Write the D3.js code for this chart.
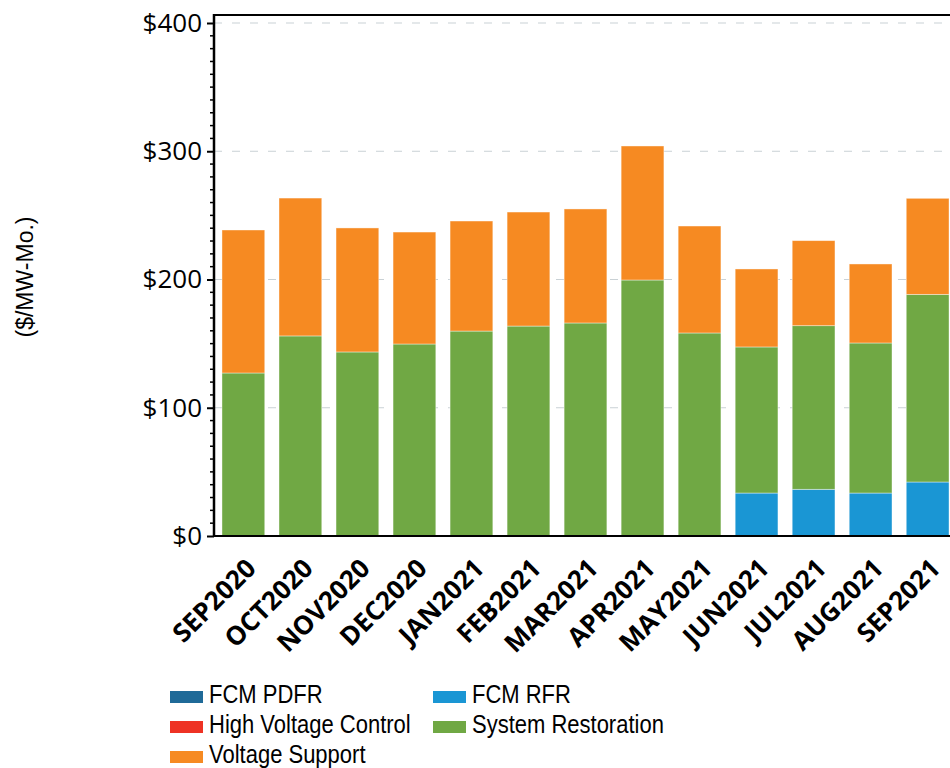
<!DOCTYPE html>
<html lang="en">
<head>
    <meta charset="UTF-8">
    <title>Ancillary costs</title>
    <script src="https://d3js.org/d3.v7.min.js"></script>
    <style>
        body {
            margin: 0;
            background: #ffffff;
            overflow: hidden;
        }

        .tick-label {
            font: 26px "Open Sans", sans-serif;
            fill: #000;
        }

        .month-label {
            font: bold 26px "Open Sans", sans-serif;
            fill: #000;
        }

        .legend-label {
            font: 22px "Liberation Sans", Arial, sans-serif;
            fill: #000;
        }

        .axis-title {
            font: 23px "Liberation Sans", Arial, sans-serif;
            fill: #000;
        }
    </style>
</head>
<body>
    <div id="chart"></div>
    <script>
        // Data ($/MW-Mo.)
        const months = ['SEP2020', 'OCT2020', 'NOV2020', 'DEC2020', 'JAN2021', 'FEB2021', 'MAR2021',
            'APR2021', 'MAY2021', 'JUN2021', 'JUL2021', 'AUG2021', 'SEP2021'];

        const fcmPdfr = [0, 0, 0, 0, 0, 0, 0, 0, 0, 0, 0, 0, 0];
        const fcmRfr = [0, 0, 0, 0, 0, 0, 0, 0, 0, 33.5, 36.4, 33.5, 42.1];
        const highVoltageControl = [0, 0, 0, 0, 0, 0, 0, 0, 0, 0, 0, 0, 0];
        const systemRestoration = [127.1, 156.0, 143.5, 149.7, 159.8, 163.7, 166.1, 199.6, 158.3, 113.9, 127.6, 117.0, 146.3];
        const voltageSupport = [111.5, 107.5, 96.7, 87.3, 85.8, 88.9, 88.9, 104.5, 83.4, 60.8, 66.3, 61.6, 74.9];

        const yTicks = [0, 100, 200, 300, 400];

        const series = [
            { name: 'FCM PDFR', values: fcmPdfr, color: '#1f6a98' },
            { name: 'FCM RFR', values: fcmRfr, color: '#1a96d4' },
            { name: 'High Voltage Control', values: highVoltageControl, color: '#ee3224' },
            { name: 'System Restoration', values: systemRestoration, color: '#70a844' },
            { name: 'Voltage Support', values: voltageSupport, color: '#f68a22' }
        ];

        // Legend layout follows the reference: two columns, filled row by row
        const legendOrder = ['FCM PDFR', 'FCM RFR', 'High Voltage Control', 'System Restoration', 'Voltage Support'];

        const width = 950;
        const height = 768;
        const plot = { left: 214, right: 957, top: 15, bottom: 536 };

        const svg = d3.select('#chart')
            .append('svg')
            .attr('width', width)
            .attr('height', height);

        const x = d3.scaleBand()
            .domain(months)
            .range([plot.left, plot.right])
            .paddingInner(0.25)
            .paddingOuter(0.14);

        const y = d3.scaleLinear()
            .domain([0, 400])
            .range([plot.bottom, plot.bottom - 513]);

        // Gridlines (behind the bars)
        svg.append('g')
            .selectAll('line')
            .data(yTicks.filter(d => d > 0))
            .join('line')
            .attr('x1', plot.left)
            .attr('x2', plot.right)
            .attr('y1', d => y(d))
            .attr('y2', d => y(d))
            .attr('stroke', '#c9d1d5')
            .attr('stroke-width', 1.2)
            .attr('stroke-dasharray', '8,10');

        // Stacked bars
        const table = months.map((m, i) => {
            const row = { month: m };
            for (const s of series) row[s.name] = s.values[i];
            return row;
        });
        const stacked = d3.stack().keys(series.map(s => s.name))(table);

        svg.append('g')
            .selectAll('g')
            .data(stacked)
            .join('g')
            .attr('fill', (d, i) => series[i].color)
            .selectAll('rect')
            .data(d => d.filter(p => p[1] - p[0] > 0))
            .join('rect')
            .attr('x', d => x(d.data.month))
            .attr('width', x.bandwidth())
            .attr('y', d => y(d[1]))
            .attr('height', d => y(d[0]) - y(d[1]))
            .attr('stroke', '#ffffff')
            .attr('stroke-opacity', 0.5)
            .attr('stroke-width', 0.8);

        // Frame
        svg.append('line')
            .attr('x1', plot.left).attr('x2', plot.right)
            .attr('y1', plot.top).attr('y2', plot.top)
            .attr('stroke', '#000').attr('stroke-width', 2);

        // Y axis with minor ticks every $10
        const yAxis = d3.axisLeft(y)
            .tickValues(yTicks)
            .tickSize(7)
            .tickPadding(5)
            .tickFormat(d => '$' + d);

        const yg = svg.append('g')
            .attr('transform', `translate(${plot.left},0)`)
            .call(yAxis);
        yg.select('.domain').remove();
        yg.selectAll('.tick line').attr('stroke', '#000').attr('stroke-width', 2);
        yg.selectAll('.tick text').attr('class', 'tick-label').attr('font-size', null).attr('font-family', null);

        svg.append('g')
            .selectAll('line')
            .data(d3.range(0, 401, 10).filter(d => d % 100 !== 0))
            .join('line')
            .attr('x1', plot.left - 4)
            .attr('x2', plot.left)
            .attr('y1', d => y(d))
            .attr('y2', d => y(d))
            .attr('stroke', '#000')
            .attr('stroke-width', 1.5);

        svg.append('line')
            .attr('x1', plot.left).attr('x2', plot.left)
            .attr('y1', plot.top - 1).attr('y2', plot.bottom + 1)
            .attr('stroke', '#000').attr('stroke-width', 2.5);

        svg.append('line')
            .attr('x1', plot.left).attr('x2', plot.right)
            .attr('y1', plot.bottom).attr('y2', plot.bottom)
            .attr('stroke', '#000').attr('stroke-width', 2);

        // Month labels, rotated
        svg.append('g')
            .selectAll('text')
            .data(months)
            .join('text')
            .attr('class', 'month-label')
            .attr('text-anchor', 'end')
            .attr('transform', d => `translate(${x(d) + x.bandwidth() / 2 + 1},${plot.bottom + 21}) rotate(-45)`)
            .attr('dy', '0.71em')
            .text(d => d);

        // Y axis title
        svg.append('text')
            .attr('class', 'axis-title')
            .attr('text-anchor', 'middle')
            .attr('transform', 'translate(33,277) rotate(-90)')
            .text('($/MW-Mo.)');

        // Legend
        const legend = svg.append('g')
            .selectAll('g')
            .data(legendOrder)
            .join('g')
            .attr('transform', (d, i) => `translate(${170 + (i % 2) * 263},${691 + Math.floor(i / 2) * 30})`);

        legend.append('rect')
            .attr('width', 33)
            .attr('height', 12)
            .attr('fill', d => series.find(s => s.name === d).color);

        // the reference font is a tall, narrow sans; stretch vertically a little
        legend.append('text')
            .attr('class', 'legend-label')
            .attr('transform', 'translate(39,12) scale(1,1.14)')
            .text(d => d);
    </script>
</body>
</html>
